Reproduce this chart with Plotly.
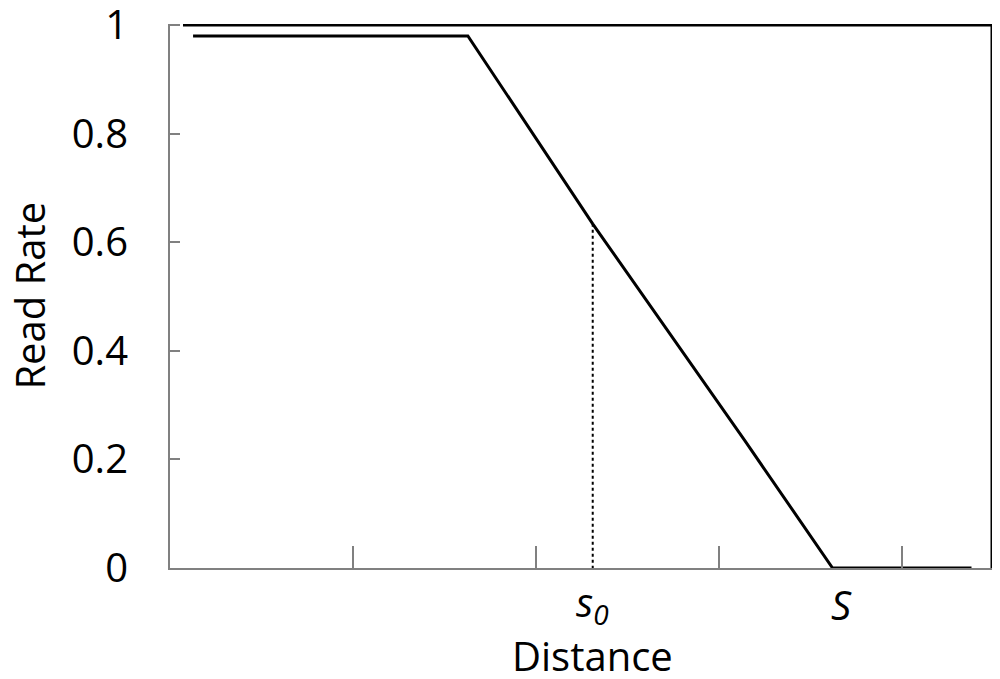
import plotly.graph_objects as go

# Data
dist = [0.126, 1.627, 2.309, 3.139, 3.619, 4.378]
read_rate = [0.98, 0.98, 0.634, 0.235, 0.0, 0.0]
s0_value = 2.309
s0_rate = 0.634
S_value = 3.619
y_tick_vals = [0, 0.2, 0.4, 0.6, 0.8, 1]
y_tick_text = ["0", "0.2", "0.4", "0.6", "0.8", "1"]
x_tick_vals = [1, 2, 3, 4]
x_range = [0, 4.49]
y_range = [0, 1.002]

FONT = "Open Sans"
FS = 40
GRAY = "#808080"

fig = go.Figure()
fig.add_trace(go.Scatter(x=[s0_value, s0_value], y=[s0_rate, -0.008], mode="lines",
                         line=dict(color="black", width=2, dash="dot"),
                         cliponaxis=False, showlegend=False, hoverinfo="skip"))
fig.add_trace(go.Scatter(x=dist, y=read_rate, mode="lines",
                         line=dict(color="black", width=3),
                         cliponaxis=False, showlegend=False))

# frame top and right (black)
fig.add_shape(type="line", xref="x", yref="y", x0=0.071, x1=x_range[1], y0=1, y1=1,
              line=dict(color="black", width=3))
fig.add_shape(type="line", xref="x", yref="y", x0=x_range[1], x1=x_range[1], y0=0, y1=1,
              line=dict(color="black", width=3))

txt = dict(family=FONT, size=FS, color="black")
fig.add_annotation(x=s0_value, y=-0.066, xref="x", yref="paper", text="<i>s<sub>0</sub></i>",
                   showarrow=False, font=txt, yanchor="middle")
fig.add_annotation(x=S_value + 0.05, y=-0.068, xref="x", yref="paper", text="<i>S</i>",
                   showarrow=False, font=txt, yanchor="middle")
fig.add_annotation(x=s0_value, y=-0.16, xref="x", yref="paper", text="Distance",
                   showarrow=False, font=txt, yanchor="middle")
fig.add_annotation(x=-0.172, y=0.5, xref="paper", yref="paper", text="Read Rate", textangle=-90,
                   showarrow=False, font=txt, xanchor="center", yanchor="middle")

fig.update_xaxes(range=x_range, tickvals=x_tick_vals, showticklabels=False, automargin=False,
                 ticks="inside", ticklen=22, tickwidth=2, tickcolor=GRAY,
                 showline=True, linecolor=GRAY, linewidth=2, showgrid=False, zeroline=False)
fig.update_yaxes(range=y_range, tickvals=y_tick_vals, ticktext=y_tick_text, automargin=False,
                 ticks="inside", ticklen=10, tickwidth=2, tickcolor=GRAY,
                 showline=True, linecolor=GRAY, linewidth=2, showgrid=False, zeroline=False,
                 tickfont=txt, ticklabelstandoff=32, ticklabeloverflow="allow")
# page body has an 8px default margin, so margins are shifted by 8px
fig.update_layout(width=1000, height=679, margin=dict(l=162, r=16, t=16, b=119),
                  plot_bgcolor="white", paper_bgcolor="white")
fig.write_html("out.html")
